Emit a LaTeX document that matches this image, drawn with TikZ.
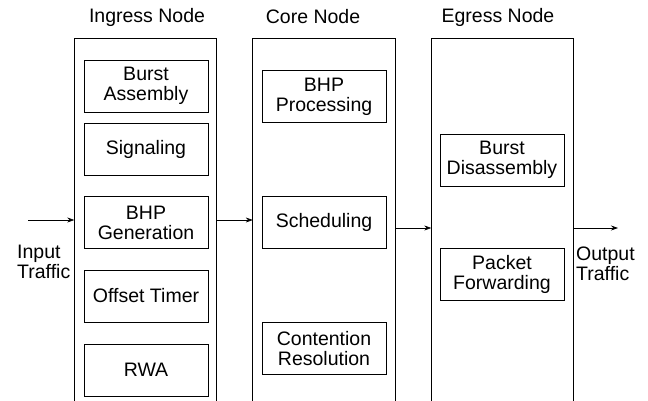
\documentclass[tikz,border=0pt]{standalone}
\usepackage{fontspec}
\setmainfont{Liberation Sans}
\usepackage{tikz}
\usetikzlibrary{positioning, arrows.meta}

\begin{document}
\begin{tikzpicture}[
  x=1pt, y=-1pt,
  font=\fontsize{19.5}{20}\selectfont,
  >={Stealth[length=7pt,width=5pt]},
  container/.style={minimum width=142pt, minimum height=362pt, inner sep=0pt},
  func/.style={draw, line width=0.9pt, align=center, inner sep=0pt,
               minimum width=124pt, minimum height=52pt},
  title/.style={inner sep=1pt},
  side/.style={align=left, inner sep=1pt},
  flow/.style={->, line width=0.7pt},
]
\useasboundingbox (0,0) rectangle (648,401);

% Node containers (bottom edge runs off the page)
\node[container] (ing) at (145.5,220) {};
\node[container] (core) at (324,220) {};
\node[container] (egr) at (502.5,220) {};
\foreach \n in {ing, core, egr}
  \draw[line width=0.9pt] (\n.south west) -- (\n.north west) -- (\n.north east) -- (\n.south east);

\node[title] (ingT) at (147,17) {Ingress Node};
\node[title] (coreT) at (313,17) {Core Node};
\node[title] (egrT) at (498,17) {Egress Node};

% Ingress functions
\node[func] (asm) at (146,86) {Burst\\Assembly};
\node[func] (sig) at (146,149.5) {Signaling};
\node[func] (gen) at (146,222.5) {BHP\\Generation};
\node[func] (off) at (146,296) {Offset Timer};
\node[func] (rwa) at (146,370) {RWA};

% Core functions
\node[func] (proc) at (324,96.5) {BHP\\Processing};
\node[func] (sched) at (324,222.5) {Scheduling};
\node[func] (cont) at (324,348.5) {Contention\\Resolution};

% Egress functions
\node[func] (dis) at (502,160) {Burst\\Disassembly};
\node[func] (fwd) at (502,274.5) {Packet\\Forwarding};

% Traffic in / out
\coordinate (src) at (28,220);
\coordinate (dst) at (618,228);
\node[side, anchor=west] (inT) at (16,262) {Input\\Traffic};
\node[side, anchor=west] (outT) at (575,264) {Output\\Traffic};

\draw[flow] (src) -- (ing.west);
\draw[flow] (ing.east) -- (core.west);
\draw[flow] ([yshift=-8pt]core.east) -- ([yshift=-8pt]egr.west);
\draw[flow] (egr.east |- dst) -- (dst);

\end{tikzpicture}
\end{document}
